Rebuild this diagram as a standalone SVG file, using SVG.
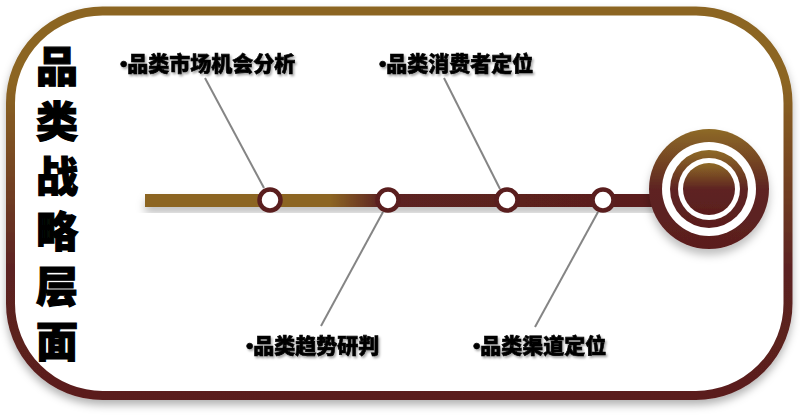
<svg xmlns="http://www.w3.org/2000/svg" width="800" height="416" viewBox="0 0 800 416">
  <defs>
    <linearGradient id="frameGrad" x1="0" y1="0" x2="0" y2="416" gradientUnits="userSpaceOnUse">
      <stop offset="0.2" stop-color="#8C6524"/>
      <stop offset="0.65" stop-color="#5C2220"/>
      <stop offset="1" stop-color="#5A1E1E"/>
    </linearGradient>
    <linearGradient id="barGrad" x1="145" y1="0" x2="660" y2="0" gradientUnits="userSpaceOnUse">
      <stop offset="0.36" stop-color="#8C6524"/>
      <stop offset="0.46" stop-color="#5C2220"/>
      <stop offset="1" stop-color="#5A1E1E"/>
    </linearGradient>
    <linearGradient id="targetGrad" x1="0" y1="0" x2="0" y2="1">
      <stop offset="0" stop-color="#8E6A26"/>
      <stop offset="0.5" stop-color="#5E2422"/>
      <stop offset="1" stop-color="#5A1E1E"/>
    </linearGradient>
    <filter id="frameShadow" x="-10%" y="-10%" width="120%" height="130%">
      <feDropShadow dx="0" dy="5" stdDeviation="4" flood-color="#000" flood-opacity="0.3"/>
    </filter>
    <filter id="softShadow" x="-20%" y="-20%" width="140%" height="160%">
      <feDropShadow dx="0" dy="6" stdDeviation="4" flood-color="#000" flood-opacity="0.25"/>
    </filter>
    <filter id="lineShadow" x="-500%" y="-5%" width="1100%" height="110%">
      <feDropShadow dx="0" dy="0" stdDeviation="3" flood-color="#000" flood-opacity="0.2"/>
    </filter>
    <filter id="textShadow" x="-5%" y="-20%" width="110%" height="150%">
      <feDropShadow dx="1.5" dy="2" stdDeviation="0.8" flood-color="#000" flood-opacity="0.35"/>
    </filter>
    <style>
      .title { font-family: "Noto Sans CJK SC", "Liberation Sans", sans-serif; font-size: 42px; font-weight: 900; fill: #000; stroke: #000; stroke-width: 1.2; text-anchor: middle; }
      .label { font-family: "Liberation Sans", "Noto Sans CJK SC", sans-serif; font-size: 21px; font-weight: 900; fill: #000; stroke: #000; stroke-width: 0.6; filter: url(#textShadow); }
      .conn { stroke: #858585; stroke-width: 2; fill: none; }
      .node { fill: #FFFFFF; stroke: #5A1E1E; stroke-width: 4.5; }
    </style>
  </defs>

  <rect width="800" height="416" fill="#FFFFFF"/>

  <g id="frame">
    <rect x="10.5" y="11" width="777.5" height="384.5" rx="92" ry="92" fill="#FFFFFF" stroke="url(#frameGrad)" stroke-width="9" filter="url(#frameShadow)"/>
    <line x1="101" y1="15" x2="101" y2="391" stroke="url(#frameGrad)" stroke-width="2" filter="url(#lineShadow)"/>
  </g>

  <g id="title">
    <text class="title" x="57" y="82">品</text>
    <text class="title" x="57" y="137">类</text>
    <text class="title" x="57" y="192">战</text>
    <text class="title" x="57" y="247">略</text>
    <text class="title" x="57" y="302">层</text>
    <text class="title" x="57" y="357">面</text>
  </g>

  <g id="connectors">
    <line class="conn" x1="205" y1="78" x2="264" y2="188"/>
    <line class="conn" x1="444" y1="78" x2="500" y2="189"/>
    <line class="conn" x1="383" y1="212" x2="321" y2="326"/>
    <line class="conn" x1="598" y1="212" x2="535" y2="327"/>
  </g>

  <g id="axis">
    <rect x="145" y="194" width="520" height="13" fill="url(#barGrad)" filter="url(#softShadow)"/>
  </g>

  <g id="target" filter="url(#softShadow)">
    <circle cx="709" cy="189" r="60" fill="url(#targetGrad)"/>
    <circle cx="709" cy="189" r="47" fill="#FFFFFF"/>
    <circle cx="709" cy="189" r="39" fill="url(#targetGrad)"/>
    <circle cx="709" cy="189" r="31" fill="#FFFFFF"/>
    <circle cx="709" cy="189" r="26" fill="url(#targetGrad)"/>
  </g>

  <g id="node1"><circle class="node" cx="270" cy="200" r="10.5"/></g>
  <g id="node2"><circle class="node" cx="388" cy="200" r="10.5"/></g>
  <g id="node3"><circle class="node" cx="507" cy="200" r="10.5"/></g>
  <g id="node4"><circle class="node" cx="603" cy="200" r="10.5"/></g>

  <g id="label1"><text class="label" x="120" y="71">•品类市场机会分析</text></g>
  <g id="label2"><text class="label" x="379" y="71">•品类消费者定位</text></g>
  <g id="label3"><text class="label" x="246" y="353">•品类趋势研判</text></g>
  <g id="label4"><text class="label" x="473" y="353">•品类渠道定位</text></g>
</svg>
